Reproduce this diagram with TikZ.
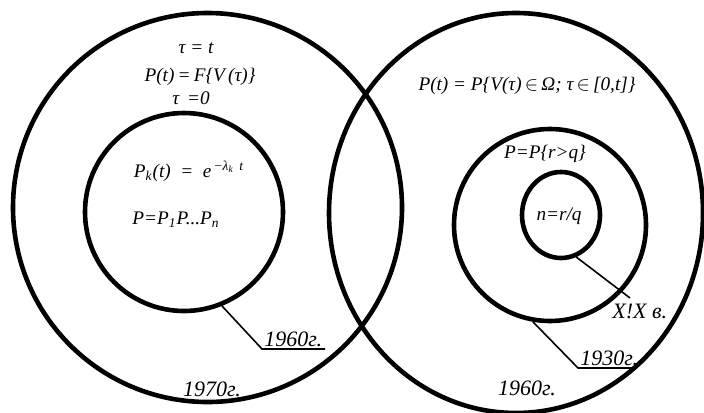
\documentclass[tikz,border=0pt]{standalone}
\usepackage{fontspec}
\setmainfont{Liberation Serif}
\usetikzlibrary{positioning,shapes.geometric}
\definecolor{ink}{HTML}{000000}

\tikzset{
  ring/.style={ellipse,draw=ink,line width=2.3pt,inner sep=0pt},
  leader/.style={draw=ink,line width=0.8pt},
  formula/.style={font=\fontsize{9.6}{11}\selectfont\itshape,color=ink,inner sep=1pt},
  yearlbl/.style={font=\fontsize{11}{13}\selectfont\itshape,color=ink,inner sep=1pt}
}
\newcommand{\elem}{\,$\in$\,}

\begin{document}
\begin{tikzpicture}[x=0.5pt,y=-0.5pt]
        \useasboundingbox (0,0) rectangle (704,412);
        % circles
        \node[ring,minimum width=194.5pt,minimum height=194.5pt] (outerL) at (207.5,207.5) {};
        \node[ring,minimum width=187pt,minimum height=200pt] (outerR) at (516,213) {};
        \node[ring,minimum width=99pt,minimum height=99pt] (innerL) at (184,212) {};
        \node[ring,minimum width=96pt,minimum height=96pt] (midR) at (550,225) {};
        \node[ring,minimum width=39pt,minimum height=43pt] (coreR) at (561,215) {};
        % formulas
        \node[formula] (tauT) at (196,48) {τ = t};
        \node[formula] (Ft) at (200,77) {P(t)\,=\,F\{V\,(τ)\}};
        \node[formula] (tau0) at (191,98) {τ \,=0};
        \node[formula] (Pk) at (189,171) {P\textsubscript{k}(t) \ = \ e\textsuperscript{\,−λ\textsubscript{k} \,t}};
        \node[formula] (Pprod) at (176,220) {P=P\textsubscript{1}P...P\textsubscript{n}};
        \node[formula] (Pomega) at (527,86) {P(t) = P\{V(τ)\elem Ω; τ\elem[0,t]\}};
        \node[formula] (Prq) at (545,154) {P=P\{r>q\}};
        \node[formula] (nrq) at (559,216) {n=r/q};
        % years
        \node[yearlbl] (y1970) at (212,389) {1970г.};
        \node[yearlbl] (y1960R) at (527,388) {1960г.};
        \coordinate (k1960) at (262,349);
        \coordinate (e1960) at (325,349);
        \node[yearlbl,anchor=south west] (y1960L) at (k1960) {1960г.};
        \draw[leader] (innerL.-68) -- (k1960) -- (e1960);
        \coordinate (k1930) at (578,368);
        \coordinate (e1930) at (636,368);
        \node[yearlbl,anchor=south west] (y1930) at (k1930) {1930г.};
        \draw[leader] (midR.-100) -- (k1930) -- (e1930);
        \coordinate (kXIX) at (630,298);
        \node[yearlbl,anchor=north west] (yXIX) at (610,302) {X!X в.};
        \draw[leader] (coreR.-70) -- (kXIX);
      \end{tikzpicture}
\end{document}
